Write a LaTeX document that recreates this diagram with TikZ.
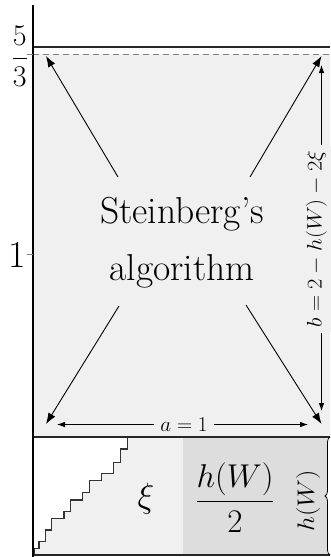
\RequirePackage{fix-cm}
\documentclass[tikz,border=0pt]{standalone}
\usepackage{amsmath}
\usetikzlibrary{arrows.meta,decorations.pathreplacing}
\definecolor{lightg}{HTML}{F0F0F0}
\definecolor{darkg}{HTML}{DDDDDD}
\begin{document}
\begin{tikzpicture}[x=1pt,y=-1pt,
  thickline/.style={line width=1.8pt,black!85},
  diagarr/.style={line width=0.9pt,-{Latex[length=11pt,width=8pt]}},
  dimarr/.style={line width=0.8pt,-{Latex[length=8pt,width=5.5pt]}},
  dimlabel/.style={fill=lightg,inner sep=5pt,font=\fontsize{21}{25}\selectfont},
  bigtext/.style={font=\fontsize{37.5}{57}\selectfont,align=center},
]
\useasboundingbox (0,0) rectangle (330,557);
% fills
\fill[lightg] (33,54) rectangle (330,437);
\fill[lightg] (33,437) rectangle (183,555);
\fill[darkg] (183,437) rectangle (327,555);
\fill[white] (33,437) -- (127.3,437) -- (127.3,449) -- (120.7,449) -- (120.7,462.3) -- (113.3,462.3)
  -- (113.3,473.3) -- (101.7,473.3) -- (101.7,480.7) -- (89.3,480.7) -- (89.3,492.3) -- (82.7,492.3)
  -- (82.7,500) -- (70.7,500) -- (70.7,511.7) -- (64,511.7) -- (64,518.3) -- (51.7,518.3)
  -- (51.7,530) -- (45.7,530) -- (45.7,541.7) -- (39,541.7) -- (39,548.3) -- (34.7,548.3)
  -- (34.7,555) -- (33,555) -- cycle;
% staircase
\draw[line width=1.1pt,black!80] (127.3,437) -- (127.3,449) -- (120.7,449) -- (120.7,462.3) -- (113.3,462.3)
  -- (113.3,473.3) -- (101.7,473.3) -- (101.7,480.7) -- (89.3,480.7) -- (89.3,492.3) -- (82.7,492.3)
  -- (82.7,500) -- (70.7,500) -- (70.7,511.7) -- (64,511.7) -- (64,518.3) -- (51.7,518.3)
  -- (51.7,530) -- (45.7,530) -- (45.7,541.7) -- (39,541.7) -- (39,548.3) -- (34.7,548.3)
  -- (34.7,555);
% lines
\draw[gray,line width=0.9pt,dash pattern=on 6pt off 4pt] (33,54) -- (330,54);
\draw[thickline] (33,47) -- (330,47);
\draw[thickline] (33,437) -- (330,437);
\draw[thickline] (33,555) -- (330,555);
\draw[line width=1.8pt] (33,5) -- (33,557);
% ticks and axis labels
\draw[gray,line width=0.8pt] (27,254) -- (33,254);
\draw[gray,line width=0.8pt] (27,54) -- (33,54);
\node[anchor=east,inner sep=1pt,font=\fontsize{38}{40}\selectfont] (one) at (27,254.5) {1};
\node[anchor=base east,inner sep=1pt,font=\fontsize{30}{36}\selectfont] (fivethirds) at (29,66) {$\dfrac{5}{3}$};
% centre text
\node[bigtext] (alg) at (182,243) {Steinberg's\\algorithm};
\coordinate (tl) at (46,56);
\coordinate (tr) at (321.5,56);
\coordinate (bl) at (46,424);
\coordinate (br) at (321.5,424);
\coordinate (stl) at (118,177);
\coordinate (str) at (250,177);
\coordinate (sbl) at (119,306);
\coordinate (sbr) at (246,305);
\draw[diagarr] (stl) -- (tl);
\draw[diagarr] (str) -- (tr);
\draw[diagarr] (sbl) -- (bl);
\draw[diagarr] (sbr) -- (br);
% dimension a
\node[dimlabel,inner xsep=6pt] (alab) at (184,424.5) {$a=1$};
\coordinate (aL) at (57,424.5);
\coordinate (aR) at (308,424.5);
\draw[dimarr] (alab) -- (aL);
\draw[dimarr] (alab) -- (aR);
% dimension b
\node[dimlabel,rotate=90,anchor=base] (blab) at (321.5,239) {\scalebox{1.07}[1]{$b=2-h(W)-2\xi$}};
\coordinate (bT) at (321.5,65);
\coordinate (bB) at (321.5,411);
\draw[dimarr] (blab.west -| bB) -- (bB);
\draw[dimarr] (blab.east -| bT) -- (bT);
% bottom labels
\node[font=\fontsize{35}{40}\selectfont] (xi) at (146,499) {$\xi$};
\node[font=\fontsize{33}{40}\selectfont] (hw2) at (235,498) {$\dfrac{h(W)}{2}$};
\node[rotate=90,font=\fontsize{24}{28}\selectfont] (hw) at (308,501) {\scalebox{1.1}[1]{$h(W)$}};
\draw[line width=0.8pt,decorate,decoration={brace,amplitude=5pt}] (330,555) -- (330,437);
\end{tikzpicture}
\end{document}
